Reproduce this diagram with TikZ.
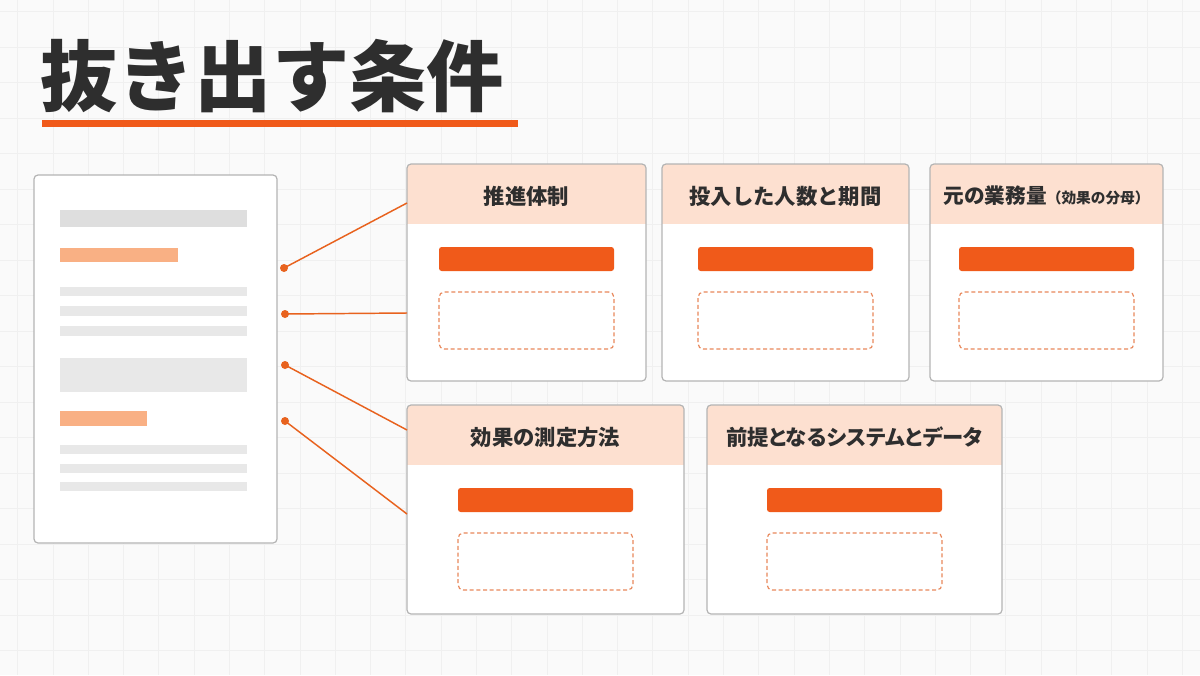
\documentclass[tikz,border=0pt]{standalone}
\usepackage{fontspec}
\newfontfamily\jp{Noto Sans CJK JP}
\newfontfamily\jpp{Noto Sans CJK JP}[RawFeature=+palt]
\usetikzlibrary{fit}
\definecolor{bg}{HTML}{FAFAFA}
\definecolor{gridc}{HTML}{F0F0F0}
\definecolor{ink}{HTML}{2E2E2E}
\definecolor{accent}{HTML}{F05A1A}
\definecolor{hdr}{HTML}{FDE0D0}
\definecolor{lightor}{HTML}{F9B084}
\definecolor{dashc}{HTML}{E8885C}
\definecolor{bordc}{HTML}{B4B4B4}
\definecolor{barA}{HTML}{DEDEDE}
\definecolor{barB}{HTML}{E8E8E8}
\definecolor{linec}{HTML}{E8621E}
\tikzset{
  dot/.style={circle, fill=linec, inner sep=0pt, minimum size=6pt},
  conn/.style={draw=linec, line width=1.1pt},
  boxfit/.style={inner sep=0pt},
  hdrtext/.style={font=\jp\bfseries\fontsize{16}{16}\selectfont, text=ink, inner sep=0pt},
}
\newcommand\mycard[6]{%
  \pgfmathsetmacro\cx{(#2+#4)/2}%
  \fill[white, rounded corners=3] (#2,#3) rectangle (#4,#5);
  \begin{scope}
    \clip[rounded corners=3] (#2,#3) rectangle (#4,#5);
    \fill[hdr] (#2,#3) rectangle (#4,#3+60);
  \end{scope}
  \node[boxfit, fit={(#2,#3)(#4,#5)}, draw=bordc, rounded corners=3, line width=0.9pt] (#1) {};
  \node[hdrtext] (#1t) at (\cx,#3+32) {#6};
  \node[boxfit, fit={(\cx-87.5,#3+83)(\cx+87.5,#3+107)}, fill=accent, rounded corners=2] (#1b) {};
  \node[boxfit, fit={(\cx-87.5,#3+128)(\cx+87.5,#3+185)}, draw=dashc, dash pattern=on 3pt off 2pt, line width=0.9pt, rounded corners=4] (#1d) {};
}
\begin{document}
\begin{tikzpicture}[x=0.75pt, y=-0.75pt]
\useasboundingbox (0,0) rectangle (1200,675);
\fill[bg] (0,0) rectangle (1200,675);
\foreach \k in {0,...,33} \draw[gridc, line width=0.5pt] ({17.6+35.29*\k},0) -- ({17.6+35.29*\k},675);
\foreach \k in {0,...,18} \draw[gridc, line width=0.5pt] (0,{11.5+35.5*\k}) -- (1200,{11.5+35.5*\k});

% title
\node[anchor=west, font=\jp\bfseries\fontsize{58}{58}\selectfont, text=ink, inner sep=0pt] (title) at (40,76) {抜き出す条件};
\node[boxfit, fit={(42,120)(518,127)}, fill=accent] (uline) {};

% document
\node[boxfit, fit={(34,175)(277,543)}, draw=bordc, fill=white, rounded corners=3, line width=0.9pt] (doc) {};
\fill[barA] (60,210) rectangle (247,227);
\fill[lightor] (60,248) rectangle (178,262);
\fill[barB] (60,287) rectangle (247,296);
\fill[barB] (60,306) rectangle (247,316);
\fill[barB] (60,326) rectangle (247,336);
\fill[barB] (60,358) rectangle (247,392);
\fill[lightor] (60,411) rectangle (147,426);
\fill[barB] (60,445) rectangle (247,454);
\fill[barB] (60,464) rectangle (247,473);
\fill[barB] (60,482) rectangle (247,491);

% cards
\mycard{c1}{407}{164}{646}{381}{推進体制}
\mycard{c2}{662}{164}{909}{381}{投入した人数と期間}
\mycard{c3}{930}{164}{1163}{381}{{\fontsize{15.5}{16}\selectfont 元の業務量}{\fontsize{11}{12}\selectfont （効果の分母）}}
\mycard{c4}{407}{405}{684}{614}{効果の測定方法}
\mycard{c5}{707}{405}{1002}{614}{{\jpp\bfseries 前提となるシステムとデータ}}

% connectors
\coordinate (e1) at (407,203);
\coordinate (e2) at (407,313);
\coordinate (e3) at (407,430);
\coordinate (e4) at (407,514);
\node[dot] (d1) at (284,268) {};
\node[dot] (d2) at (285,314) {};
\node[dot] (d3) at (285,365) {};
\node[dot] (d4) at (285,421) {};
\draw[conn] (d1.center) -- (e1);
\draw[conn] (d2.center) -- (e2);
\draw[conn] (d3.center) -- (e3);
\draw[conn] (d4.center) -- (e4);
\end{tikzpicture}
\end{document}
